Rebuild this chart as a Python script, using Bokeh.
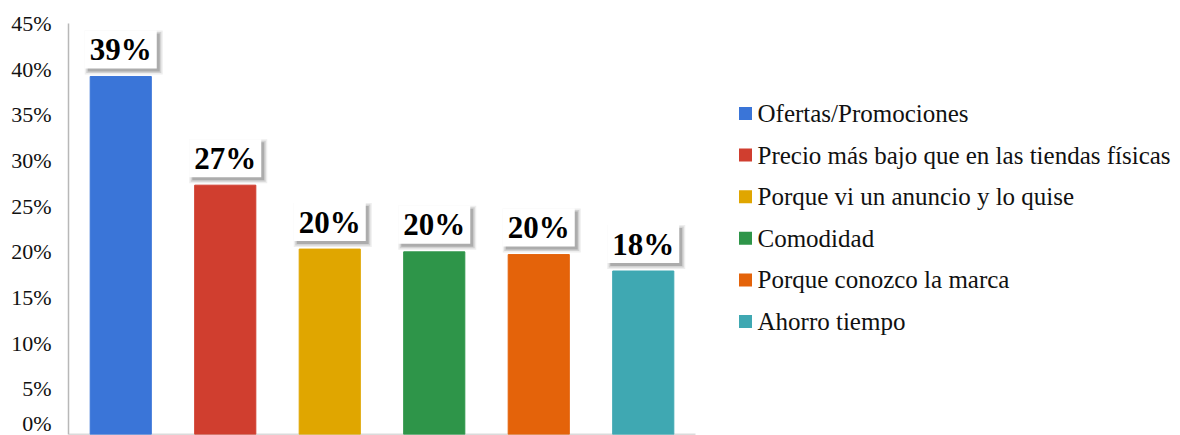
from bokeh.plotting import figure
from bokeh.models import ColumnDataSource, Range1d, FixedTicker, CustomJSTickFormatter
from bokeh.embed import file_html
from bokeh.resources import INLINE
from bokeh.core.properties import value

categories = ["Ofertas/Promociones", "Precio más bajo que en las tiendas físicas",
              "Porque vi un anuncio y lo quise", "Comodidad",
              "Porque conozco la marca", "Ahorro tiempo"]
values = [39.2, 27.3, 20.3, 20.0, 19.7, 17.9]
labels = ["39%", "27%", "20%", "20%", "20%", "18%"]
colors = ["#3A75D8", "#D03E2F", "#E0A600", "#2E9549", "#E4630A", "#3FA8B2"]
y_ticks = [0, 5, 10, 15, 20, 25, 30, 35, 40, 45]

FONT = "Liberation Serif"
W, H = 1180, 435
TOP, BOT, LEFT = 23, 1, 68
frame_h = H - TOP - BOT
frame_w = W - LEFT
ppy = frame_h / 45.0
ppx = 627 / 6.0
n = len(values)

xs = [i + 0.5 for i in range(n)]
box_y = [v + 27 / ppy for v in values]

src = ColumnDataSource(dict(x=xs, v=values, label=categories, color=colors,
                            lab=labels, by=box_y,
                            sx=[x + 3 / ppx for x in xs],
                            sy=[y - 3 / ppy for y in box_y]))

# legend layout (screen pixels -> data units)
LEG_X, LEG_Y0, LEG_STEP = 745, 113, 41.6
leg_src = ColumnDataSource(dict(
    gx=[(LEG_X - LEFT) / ppx] * n,
    tx=[(LEG_X + 12 - LEFT) / ppx] * n,
    gy=[(H - BOT - (LEG_Y0 + i * LEG_STEP)) / ppy for i in range(n)],
    label=categories, color=colors))

p = figure(width=W, height=H, output_backend="svg", toolbar_location=None,
           x_range=Range1d(0, frame_w / ppx), y_range=Range1d(0, 45),
           min_border_top=TOP, min_border_bottom=BOT,
           min_border_left=LEFT, min_border_right=0)
p.outline_line_color = None
p.xgrid.grid_line_color = None
p.ygrid.grid_line_color = None
p.xaxis.visible = False
p.background_fill_color = "white"
p.border_fill_color = "white"

ya = p.yaxis[0]
ya.ticker = FixedTicker(ticks=y_ticks)
ya.formatter = CustomJSTickFormatter(code="return tick + '%';")
ya.axis_line_color = "#B8B8B8"
ya.axis_line_width = 1.5
ya.major_tick_line_color = None
ya.minor_tick_line_color = None
ya.major_label_text_font = FONT
ya.major_label_text_font_size = "22px"
ya.major_label_text_color = "#111111"
ya.major_label_standoff = 11

# bottom axis line spanning only the categories
p.segment(x0=[0], y0=[0], x1=[n], y1=[0], line_color="#B8B8B8", line_width=1.5)

p.vbar(x="x", top="v", width=0.585, color="color", source=src)

# shadow layers
for grow, alpha in [(6, 0.10), (3, 0.18), (0, 0.30)]:
    p.rect(x="sx", y="sy", width=72 + grow, height=38 + grow,
           width_units="screen", height_units="screen",
           fill_color="#555555", fill_alpha=alpha, line_color=None, source=src)
p.rect(x="x", y="by", width=72, height=38, width_units="screen", height_units="screen",
       fill_color="white", line_color=None, source=src)
p.text(x="x", y="by", text="lab", source=src, text_font=value(FONT),
       text_font_style="bold", text_font_size="31px", text_align="center",
       text_baseline="middle", text_color="#000000")

# legend
p.scatter(x="gx", y="gy", marker="square", size=13, fill_color="color",
          line_color=None, source=leg_src)
p.text(x="tx", y="gy", text="label", source=leg_src, text_font=value(FONT),
       text_font_size="25px", text_align="left", text_baseline="middle",
       text_color="#111111")

open("out.html", "w").write(file_html(p, INLINE))
